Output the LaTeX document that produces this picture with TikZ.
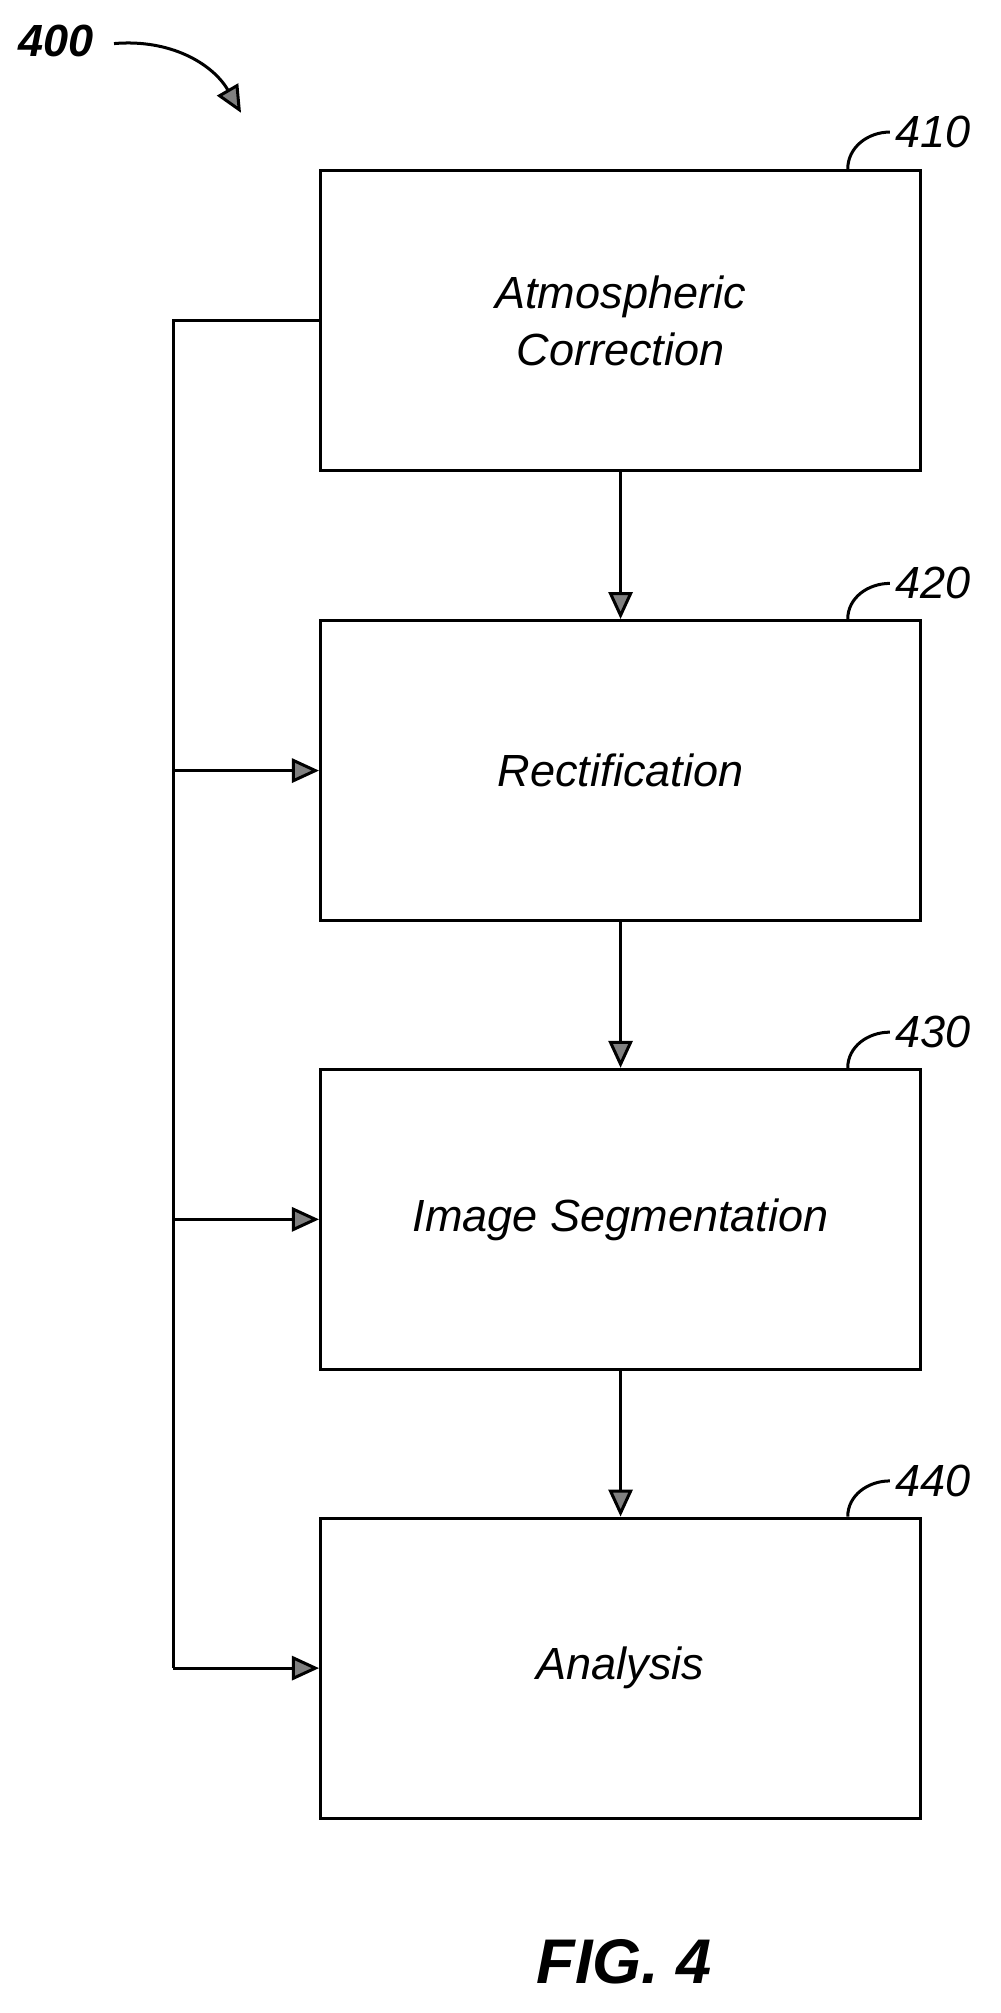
\documentclass[tikz,border=0pt]{standalone}
\usepackage{fontspec}
\setmainfont{Liberation Sans}
\usetikzlibrary{positioning, arrows.meta}

\tikzset{
    stage/.style={draw, line width=2pt, minimum width=14.04cm, minimum height=7.02cm,
        align=center, font=\fontsize{30}{38}\selectfont\itshape},
    ref/.style={font=\fontsize{30}{36}\selectfont\itshape, anchor=west},
    flow/.style={line width=2pt, -{Triangle[length=18pt, width=16pt, fill=gray]}},
}

\begin{document}
\begin{tikzpicture}[x=0.03cm, y=-0.03cm]
    \useasboundingbox (0, 0) rectangle (780, 1570);

    % Boxes
    \node[stage] (ac) at (484, 250) {Atmospheric\\Correction};
    \node[stage] (rc) at (484, 601) {Rectification};
    \node[stage] (is) at (484, 951) {Image Segmentation};
    \node[stage] (an) at (484, 1301) {Analysis};

    % Reference numbers
    \node[ref] (n400) at (10, 32) {\textbf{400}};
    \node[ref] (n410) at (694, 103) {410};
    \node[ref] (n420) at (694, 455) {420};
    \node[ref] (n430) at (694, 805) {430};
    \node[ref] (n440) at (694, 1155) {440};
    \draw[line width=2pt] (ac.north east) ++(-58, 0) coordinate (h1) to[out=90, in=180] (n410.west);
    \draw[line width=2pt] (rc.north east) ++(-58, 0) coordinate (h2) to[out=90, in=180] (n420.west);
    \draw[line width=2pt] (is.north east) ++(-58, 0) coordinate (h3) to[out=90, in=180] (n430.west);
    \draw[line width=2pt] (an.north east) ++(-58, 0) coordinate (h4) to[out=90, in=180] (n440.west);
    \coordinate (tip) at (188, 88);
    \draw[flow] (n400.east) ++(12, 2) to[out=5, in=120] (tip);

    % Main flow
    \draw[flow] (ac) -- (rc);
    \draw[flow] (rc) -- (is);
    \draw[flow] (is) -- (an);

    % Bypass line
    \coordinate (b0) at (135, 250);
    \draw[line width=2pt] (ac.west) -- (b0) -- (b0 |- an.west);
    \draw[flow] (b0 |- rc.west) -- (rc.west);
    \draw[flow] (b0 |- is.west) -- (is.west);
    \draw[flow] (b0 |- an.west) -- (an.west);

    % Caption
    \node[font=\fontsize{42}{50}\selectfont\bfseries\itshape] (fig) at (487, 1530) {FIG. 4};
\end{tikzpicture}
\end{document}
